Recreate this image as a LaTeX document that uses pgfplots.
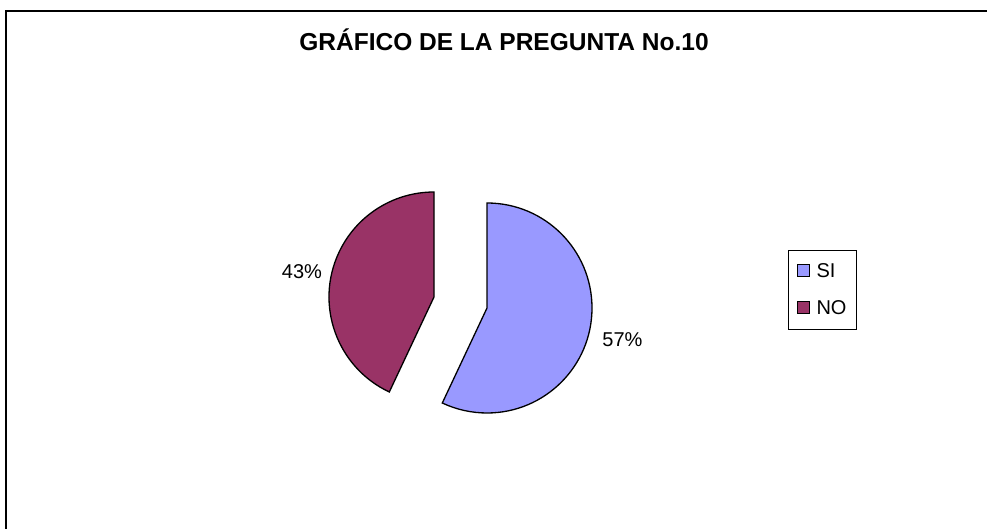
\documentclass[border=0pt]{standalone}
\usepackage{pgfplots}
\usepackage{pgfplotstable}
\pgfplotsset{compat=1.18}
\usepackage{fontspec}
\setmainfont{Liberation Sans}

\definecolor{siblue}{HTML}{9999FF}
\definecolor{nored}{HTML}{993366}

% share of each answer, in percent
\pgfplotstableread{
label value
SI 57
NO 43
}\pietable

\begin{document}
\begin{tikzpicture}
\useasboundingbox (0,0) rectangle (987pt,529pt);
\pgfplotstablegetelem{0}{value}\of\pietable \let\vsi\pgfplotsretval
\pgfplotstablegetelem{1}{value}\of\pietable \let\vno\pgfplotsretval
\pgfmathsetmacro{\asi}{90-3.6*\vsi}   % end angle of SI slice
\pgfmathsetmacro{\ano}{\asi-3.6*\vno} % end angle of NO slice
\begin{axis}[
  width=987pt, height=529pt, scale only axis,
  xmin=0, xmax=987, ymin=0, ymax=529,
  hide axis, clip=false,
  legend style={at={(axis cs:788,279)}, anchor=north west,
    draw=black, line width=1pt, font=\fontsize{20}{22}\selectfont,
    inner xsep=8pt, inner ysep=11pt, row sep=18pt,
    cells={anchor=west}},
  legend image code/.code={\draw[#1, draw=black, line width=1pt] (0pt,-5pt) rectangle (12pt,7pt);},
]
\addlegendimage{fill=siblue}
\addlegendentry{\hspace{5pt}SI}
\addlegendimage{fill=nored}
\addlegendentry{\hspace{5pt}NO}

% slices, the NO slice pulled out
\filldraw[fill=siblue, draw=black, line width=1.3pt]
  (axis cs:487,221) -- ++(90:105pt) arc[start angle=90, end angle=\asi, radius=105pt] -- cycle;
\filldraw[fill=nored, draw=black, line width=1.3pt]
  (axis cs:434,232) -- ++(\asi:105pt) arc[start angle=\asi, end angle=\ano, radius=105pt] -- cycle;

\node[font=\fontsize{20}{22}\selectfont] at (axis cs:622.5,189) {\vsi\%};
\node[font=\fontsize{20}{22}\selectfont] at (axis cs:302,257) {\vno\%};

\node[anchor=base, font=\fontsize{24.5}{27}\bfseries\selectfont] at (axis cs:504,478) {GRÁFICO DE LA PREGUNTA No.10};

% chart frame (runs off the right and bottom of the picture)
\draw[line width=2pt] (axis cs:6,-20) -- (axis cs:6,518) -- (axis cs:1010,518);
\end{axis}
\end{tikzpicture}
\end{document}
